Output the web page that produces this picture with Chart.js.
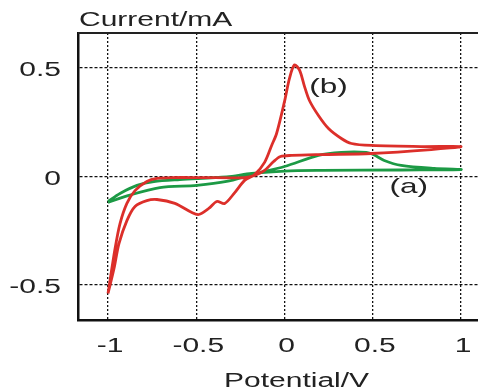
<!DOCTYPE html>
<html>
<head>
<meta charset="utf-8">
<script src="https://cdn.jsdelivr.net/npm/chart.js@4"></script>
<style>
  html,body{margin:0;padding:0;background:#fff;}
  #cv{display:block;}
</style>
</head>
<body>
<canvas id="cv" width="478" height="391"></canvas>
<script>
/* ---- DATA ---- */
// curve (b): red loop, starting at -1 V, inner branch up through the peak, back along the lower branch
const redPotential = [-1.0,-0.966,-0.938,-0.893,-0.847,-0.78,-0.723,-0.621,-0.525,-0.486,-0.429,-0.384,-0.339,-0.282,-0.226,-0.169,-0.113,-0.073,-0.045,0.0,0.028,0.056,0.085,0.113,0.141,0.192,0.249,0.322,0.379,0.492,0.774,1.0,
                      0.831,0.492,0.209,0.04,-0.023,-0.062,-0.113,-0.169,-0.226,-0.469,-0.638,-0.723,-0.78,-0.847,-0.893,-0.932,-0.96,-1.0];
const redCurrent   = [-0.539,-0.424,-0.309,-0.203,-0.138,-0.111,-0.106,-0.124,-0.166,-0.175,-0.147,-0.115,-0.124,-0.074,-0.018,0.009,0.065,0.143,0.198,0.346,0.452,0.514,0.49,0.415,0.35,0.281,0.221,0.175,0.152,0.143,0.138,0.138,
                      0.124,0.106,0.101,0.097,0.092,0.069,0.028,0.005,-0.005,-0.005,-0.005,-0.009,-0.023,-0.065,-0.124,-0.217,-0.332,-0.539];
// curve (a): green loop
const greenPotential = [-1.0,-0.887,-0.706,-0.497,-0.328,-0.186,0.0,0.192,0.322,0.463,0.503,0.565,0.661,0.847,1.0,
                        0.661,0.209,0.0,-0.186,-0.328,-0.593,-0.74,-0.836,-0.932,-1.0];
const greenCurrent   = [-0.12,-0.088,-0.051,-0.041,-0.023,0.009,0.046,0.097,0.111,0.111,0.101,0.074,0.051,0.037,0.032,
                        0.03,0.028,0.025,0.014,-0.002,-0.014,-0.023,-0.041,-0.078,-0.115];

const xTicks = [-1, -0.5, 0, 0.5, 1];
const yTicks = [-0.5, 0, 0.5];
const curveNames = ["(b)", "(a)"];
const curveLabelX = [0.14, 0.595];
const curveLabelY = [0.42, -0.04];

const FONT = '"Liberation Sans", Arial, sans-serif';
const SX = 1.5; // the reference text is stretched wide

function toPoints(xs, ys){ return xs.map((x,i)=>({x, y:ys[i]})); }

// draw text stretched horizontally
function wideText(ctx, text, x, y, align, size){
  ctx.save();
  ctx.font = size+"px "+FONT;
  ctx.fillStyle = "#222";
  ctx.textBaseline = "alphabetic";
  ctx.textAlign = "left";
  const w = ctx.measureText(text).width*SX;
  const left = align==="right" ? x-w : align==="center" ? x-w/2 : x;
  ctx.translate(left, y);
  ctx.scale(SX, 1);
  ctx.fillText(text, 0, 0);
  ctx.restore();
}

const textPlugin = {
  id:"texts",
  afterDraw(chart){
    const ctx = chart.ctx, a = chart.chartArea;
    const xs = chart.scales.x, ys = chart.scales.y;
    // top frame line
    ctx.save();
    ctx.strokeStyle = "#222"; ctx.lineWidth = 2;
    ctx.beginPath(); ctx.moveTo(a.left, a.top); ctx.lineTo(a.right, a.top); ctx.stroke();
    ctx.restore();
    // tick labels from the scales
    xs.ticks.forEach(t=> wideText(ctx, String(t.value), xs.getPixelForValue(t.value)+2, 352, "center", 20));
    ys.ticks.forEach(t=> wideText(ctx, String(t.value), 61, ys.getPixelForValue(t.value)+8, "right", 20));
    // axis titles
    wideText(ctx, "Current/mA", 79, 26, "left", 20);
    wideText(ctx, "Potential/V", xs.getPixelForValue(0)+12, 387, "center", 20);
    // curve names
    curveNames.forEach((n,i)=> wideText(ctx, n, xs.getPixelForValue(curveLabelX[i]), ys.getPixelForValue(curveLabelY[i])+8, "left", 21));
  }
};

new Chart(document.getElementById("cv"), {
  type:"scatter",
  data:{
    datasets:[
      {label:"(b)", data:toPoints(redPotential, redCurrent), showLine:true, borderColor:"#dc2f2a", borderWidth:2.8, pointRadius:0, tension:0.3},
      {label:"(a)", data:toPoints(greenPotential, greenCurrent), showLine:true, borderColor:"#1c9a45", borderWidth:2.8, pointRadius:0, tension:0.3},
    ]
  },
  options:{
    responsive:false, animation:false,
    layout:{padding:{top:33, right:0, left:0, bottom:0}},
    plugins:{legend:{display:false}, tooltip:{enabled:false}},
    scales:{
      x:{
        type:"linear", min:-1.17, max:1.096,
        afterBuildTicks:s=>{ s.ticks = xTicks.map(v=>({value:v})); },
        afterFit:s=>{ s.height = 71; },
        ticks:{display:false},
        grid:{color:"#111", lineWidth:1.3, drawTicks:false},
        border:{display:true, color:"#111", width:2.5, dash:[2,2]},
      },
      y:{
        type:"linear", min:-0.661, max:0.661,
        afterBuildTicks:s=>{ s.ticks = yTicks.map(v=>({value:v})); },
        afterFit:s=>{ s.width = 78; },
        ticks:{display:false},
        grid:{color:"#111", lineWidth:1.3, drawTicks:false},
        border:{display:true, color:"#111", width:2.5, dash:[3,2]},
      }
    }
  },
  plugins:[textPlugin]
});
</script>
</body>
</html>
